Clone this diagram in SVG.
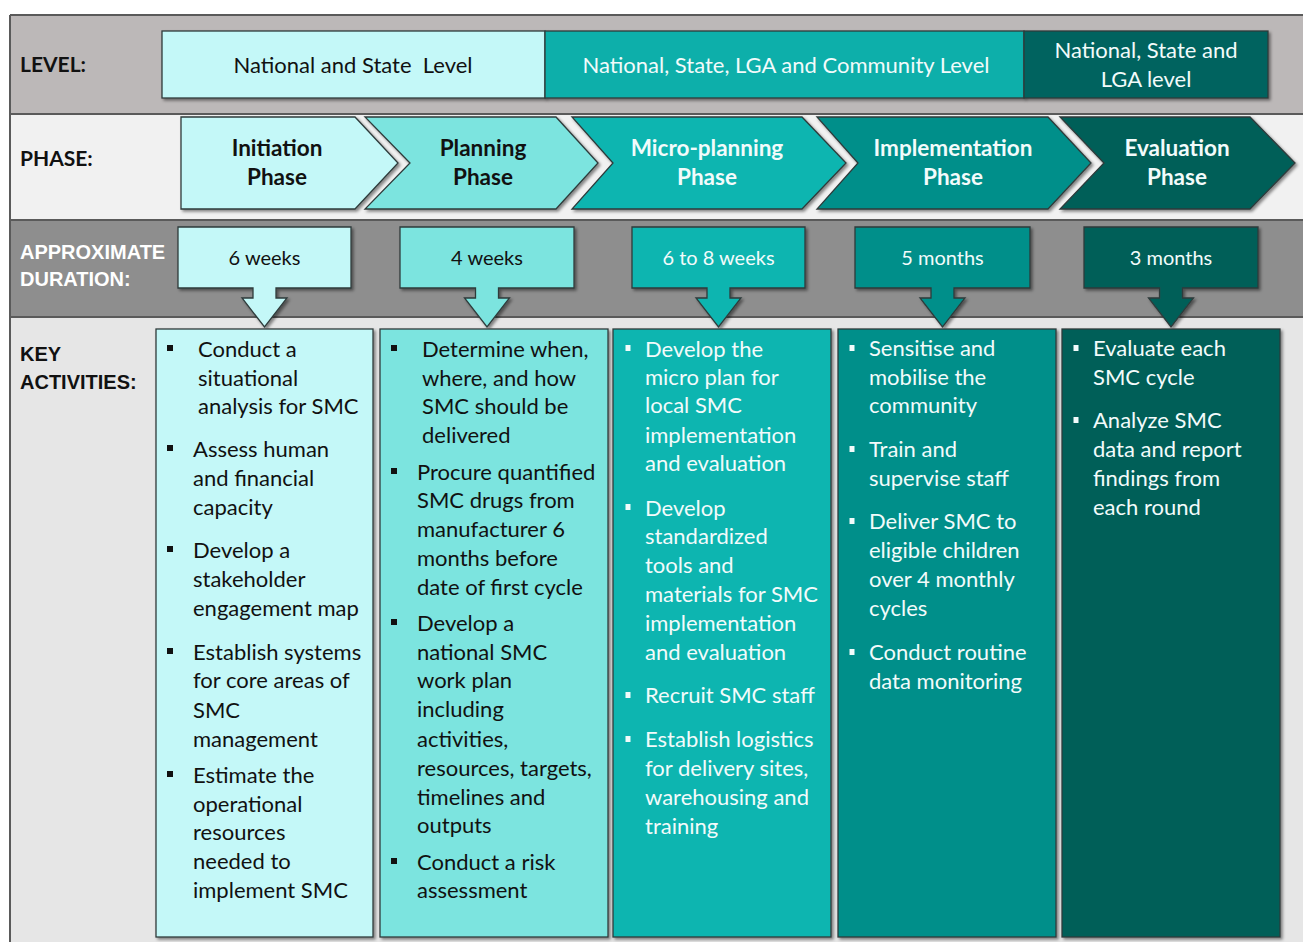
<svg xmlns="http://www.w3.org/2000/svg" width="1303" height="942" viewBox="0 0 1303 942">
<defs>
<style>
.hd{font-family:Lato,"Liberation Sans",sans-serif;font-weight:bold;font-size:21px;fill:#111}
.hg{font-family:"Liberation Sans",Arial,sans-serif;font-weight:bold;font-size:20px}
.lv{font-family:Lato,"Liberation Sans",sans-serif;font-size:22px;text-anchor:middle}
.ph{font-family:Lato,"Liberation Sans",sans-serif;font-weight:bold;font-size:22.5px;text-anchor:middle}
.du{font-family:Lato,"Liberation Sans",sans-serif;font-size:20px;text-anchor:middle}
.tx{font-family:Lato,"Liberation Sans",sans-serif;font-size:22px}
.dk{fill:#111}
.wt{fill:#F2FBFB}
.bx{stroke:#2E3B3B;stroke-width:1.3;filter:url(#sh)}
.c1{fill:#C4F8F8}.c2{fill:#7BE4DF}.c3{fill:#10B5B0}.c4{fill:#038F8A}.c5{fill:#035E59}
.sep{stroke:#5A5A5A;stroke-width:2}
</style>
<filter id="sh" x="-5%" y="-5%" width="112%" height="115%">
<feDropShadow dx="2" dy="2" stdDeviation="1.5" flood-color="#000" flood-opacity="0.45"/>
</filter>
</defs>

<g id="bands">
<rect x="10" y="15" width="1293" height="99" fill="#BCB8B8"/>
<rect x="10" y="115" width="1293" height="105" fill="#F1F1F1"/>
<rect x="10" y="220" width="1293" height="97" fill="#8E8E8E"/>
<rect x="10" y="317" width="1293" height="625" fill="#E6E6E6"/>
<line class="sep" x1="10" y1="15" x2="1303" y2="15"/>
<line class="sep" x1="10" y1="114" x2="1303" y2="114"/>
<line class="sep" x1="10" y1="220" x2="1303" y2="220"/>
<line class="sep" x1="10" y1="317" x2="1303" y2="317"/>
<line class="sep" x1="10" y1="15" x2="10" y2="942"/>
<text class="hd" x="20" y="72">LEVEL:</text>
<text class="hd" x="20" y="166">PHASE:</text>
<text class="hg" x="20" y="259" fill="#FFFFFF">APPROXIMATE</text>
<text class="hg" x="20" y="286" fill="#FFFFFF">DURATION:</text>
<text class="hg" x="20" y="361" fill="#111">KEY</text>
<text class="hg" x="20" y="389" fill="#111">ACTIVITIES:</text>
</g>

<g id="level-1">
<rect class="bx c1" x="162" y="31" width="383" height="67"/>
<text class="lv dk" x="353" y="73" xml:space="preserve">National and State  Level</text>
</g>
<g id="level-2">
<rect class="bx" x="545" y="31" width="479" height="67" fill="#10AFAA"/>
<text class="lv wt" x="786" y="73">National, State, LGA and Community Level</text>
</g>
<g id="level-3">
<rect class="bx" x="1024" y="31" width="244" height="67" fill="#04645F"/>
<text class="lv wt" x="1146" y="58">National, State and</text>
<text class="lv wt" x="1146" y="87">LGA level</text>
</g>

<g id="phase-1">
<path class="bx c1" d="M181,117 H355 L398,163 L355,209 H181 Z"/>
<text class="ph dk" x="277" y="156">Initiation</text>
<text class="ph dk" x="277" y="185">Phase</text>
</g>
<g id="phase-2">
<path class="bx c2" d="M365,117 H556 L598,163 L556,209 H365 L410,163 Z"/>
<text class="ph dk" x="483" y="156">Planning</text>
<text class="ph dk" x="483" y="185">Phase</text>
</g>
<g id="phase-3">
<path class="bx c3" d="M572,117 H802 L846,163 L802,209 H572 L613,163 Z"/>
<text class="ph wt" x="707" y="156">Micro-planning</text>
<text class="ph wt" x="707" y="185">Phase</text>
</g>
<g id="phase-4">
<path class="bx c4" d="M817,117 H1048 L1091,163 L1048,209 H817 L858,163 Z"/>
<text class="ph wt" x="953" y="156">Implementation</text>
<text class="ph wt" x="953" y="185">Phase</text>
</g>
<g id="phase-5">
<path class="bx c5" d="M1060,117 H1250 L1295,163 L1250,209 H1060 L1104,163 Z"/>
<text class="ph wt" x="1177" y="156">Evaluation</text>
<text class="ph wt" x="1177" y="185">Phase</text>
</g>

<g id="duration-1">
<path class="bx c1" d="M178,227 H351 V288 H276 V298 H287 L264.5,327 L242,298 H253 V288 H178 Z"/>
<text class="du dk" x="264.5" y="265">6 weeks</text>
</g>
<g id="duration-2">
<path class="bx c2" d="M400,227 H574 V288 H498.5 V298 H509.5 L487,327 L464.5,298 H475.5 V288 H400 Z"/>
<text class="du dk" x="487" y="265">4 weeks</text>
</g>
<g id="duration-3">
<path class="bx c3" d="M632,227 H805 V288 H730 V298 H741 L718.5,327 L696,298 H707 V288 H632 Z"/>
<text class="du wt" x="718.5" y="265">6 to 8 weeks</text>
</g>
<g id="duration-4">
<path class="bx c4" d="M855,227 H1030 V288 H954 V298 H965 L942.5,327 L920,298 H931 V288 H855 Z"/>
<text class="du wt" x="942.5" y="265">5 months</text>
</g>
<g id="duration-5">
<path class="bx c5" d="M1084,227 H1258 V288 H1182.5 V298 H1193.5 L1171,327 L1148.5,298 H1159.5 V288 H1084 Z"/>
<text class="du wt" x="1171" y="265">3 months</text>
</g>

<g id="activities-1">
<rect class="bx c1" x="156" y="329" width="217" height="608"/>
<g fill="#111">
<rect x="167" y="345" width="6" height="6"/>
<rect x="167" y="445" width="6" height="6"/>
<rect x="167" y="546" width="6" height="6"/>
<rect x="167" y="648" width="6" height="6"/>
<rect x="167" y="771" width="6" height="6"/>
</g>
<g class="tx dk">
<text x="198" y="357">Conduct a</text>
<text x="198" y="386">situational</text>
<text x="198" y="414">analysis for SMC</text>
<text x="193" y="457">Assess human</text>
<text x="193" y="486">and financial</text>
<text x="193" y="515">capacity</text>
<text x="193" y="558">Develop a</text>
<text x="193" y="587">stakeholder</text>
<text x="193" y="616">engagement map</text>
<text x="193" y="660">Establish systems</text>
<text x="193" y="688">for core areas of</text>
<text x="193" y="718">SMC</text>
<text x="193" y="747">management</text>
<text x="193" y="783">Estimate the</text>
<text x="193" y="812">operational</text>
<text x="193" y="840">resources</text>
<text x="193" y="869">needed to</text>
<text x="193" y="898">implement SMC</text>
</g>
</g>

<g id="activities-2">
<rect class="bx c2" x="380" y="329" width="228" height="608"/>
<g fill="#111">
<rect x="391" y="345" width="6" height="6"/>
<rect x="391" y="468" width="6" height="6"/>
<rect x="391" y="619" width="6" height="6"/>
<rect x="391" y="858" width="6" height="6"/>
</g>
<g class="tx dk">
<text x="422" y="357">Determine when,</text>
<text x="422" y="386">where, and how</text>
<text x="422" y="414">SMC should be</text>
<text x="422" y="443">delivered</text>
<text x="417" y="480">Procure quantified</text>
<text x="417" y="508">SMC drugs from</text>
<text x="417" y="537">manufacturer 6</text>
<text x="417" y="566">months before</text>
<text x="417" y="595">date of first cycle</text>
<text x="417" y="631">Develop a</text>
<text x="417" y="660">national SMC</text>
<text x="417" y="688">work plan</text>
<text x="417" y="717">including</text>
<text x="417" y="747">activities,</text>
<text x="417" y="776">resources, targets,</text>
<text x="417" y="805">timelines and</text>
<text x="417" y="833">outputs</text>
<text x="417" y="870">Conduct a risk</text>
<text x="417" y="898">assessment</text>
</g>
</g>

<g id="activities-3">
<rect class="bx c3" x="613" y="329" width="218" height="608"/>
<g fill="#F2FBFB">
<rect x="625.5" y="345" width="5" height="6"/>
<rect x="625.5" y="504" width="5" height="6"/>
<rect x="625.5" y="692" width="5" height="6"/>
<rect x="625.5" y="736" width="5" height="6"/>
</g>
<g class="tx wt">
<text x="645" y="357">Develop the</text>
<text x="645" y="385">micro plan for</text>
<text x="645" y="413">local SMC</text>
<text x="645" y="443">implementation</text>
<text x="645" y="471">and evaluation</text>
<text x="645" y="516">Develop</text>
<text x="645" y="544">standardized</text>
<text x="645" y="573">tools and</text>
<text x="645" y="602">materials for SMC</text>
<text x="645" y="631">implementation</text>
<text x="645" y="660">and evaluation</text>
<text x="645" y="703">Recruit SMC staff</text>
<text x="645" y="747">Establish logistics</text>
<text x="645" y="776">for delivery sites,</text>
<text x="645" y="805">warehousing and</text>
<text x="645" y="834">training</text>
</g>
</g>

<g id="activities-4">
<rect class="bx c4" x="838" y="329" width="218" height="608"/>
<g fill="#F2FBFB">
<rect x="849.5" y="345" width="5" height="6"/>
<rect x="849.5" y="446" width="5" height="6"/>
<rect x="849.5" y="518" width="5" height="6"/>
<rect x="849.5" y="649" width="5" height="6"/>
</g>
<g class="tx wt">
<text x="869" y="356">Sensitise and</text>
<text x="869" y="385">mobilise the</text>
<text x="869" y="413">community</text>
<text x="869" y="457">Train and</text>
<text x="869" y="486">supervise staff</text>
<text x="869" y="529">Deliver SMC to</text>
<text x="869" y="558">eligible children</text>
<text x="869" y="587">over 4 monthly</text>
<text x="869" y="616">cycles</text>
<text x="869" y="660">Conduct routine</text>
<text x="869" y="689">data monitoring</text>
</g>
</g>

<g id="activities-5">
<rect class="bx c5" x="1062" y="329" width="218" height="608"/>
<g fill="#F2FBFB">
<rect x="1073.5" y="345" width="5" height="6"/>
<rect x="1073.5" y="417" width="5" height="6"/>
</g>
<g class="tx wt">
<text x="1093" y="356">Evaluate each</text>
<text x="1093" y="385">SMC cycle</text>
<text x="1093" y="428">Analyze SMC</text>
<text x="1093" y="457">data and report</text>
<text x="1093" y="486">findings from</text>
<text x="1093" y="515">each round</text>
</g>
</g>

<g id="connectors"></g>
</svg>
